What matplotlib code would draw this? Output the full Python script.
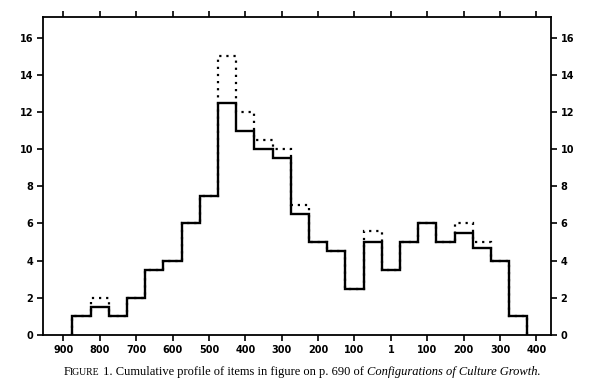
import matplotlib
matplotlib.use("Agg")
import matplotlib.pyplot as plt
from matplotlib.offsetbox import TextArea, HPacker, AnchoredOffsetbox

# Jahre: v. Chr. negativ, "1" = 0
bin_edges = list(range(-875, 376, 50))

# Durchgehende Linie
solid_vals = [1, 1.5, 1, 2, 3.5, 4, 6, 7.5, 12.5, 11, 10, 9.5, 6.5,
              5, 4.5, 2.5, 5, 3.5, 5, 6, 5, 5.5, 4.7, 4, 1]
# Punktierte Linie (nur wo sie abweicht sichtbar)
dotted_vals = [1, 2, 1, 2, 3.5, 4, 6, 7.5, 15, 12, 10.5, 10, 7,
               5, 4.5, 2.5, 5.6, 3.5, 5, 6, 5, 6, 5, 4, 1]

tick_pos = [-900, -800, -700, -600, -500, -400, -300, -200, -100, 0,
            100, 200, 300, 400]
tick_labels = ["900", "800", "700", "600", "500", "400", "300", "200",
               "100", "1", "100", "200", "300", "400"]
y_ticks = [0, 2, 4, 6, 8, 10, 12, 14, 16]

fig = plt.figure(figsize=(6, 3.9), dpi=100)
ax = fig.add_axes([0.0717, 0.141, 0.8466, 0.815])

ax.stairs(dotted_vals, bin_edges, baseline=0, color="black",
          linewidth=1.6, linestyle=(0, (1, 2.2)))
ax.stairs(solid_vals, bin_edges, baseline=0, color="black", linewidth=1.7)

ax.set_xlim(-956, 440)
ax.set_ylim(0, 17.1)

ax.set_xticks(tick_pos)
ax.set_xticklabels(tick_labels)
ax.set_yticks(y_ticks)
ax.tick_params(axis="both", direction="out", length=4, width=1.2,
               labelsize=7, color="black")
ax.tick_params(axis="x", top=True, labeltop=False, pad=3)
ax.tick_params(axis="y", right=True, labelright=True, pad=3)
for lab in ax.get_xticklabels() + ax.get_yticklabels():
    lab.set_fontweight("bold")

for sp in ax.spines.values():
    sp.set_linewidth(1.3)
    sp.set_color("black")

# Bildunterschrift mit Kapitälchen und Kursiv
serif = "Liberation Serif"
parts = [
    TextArea("F", textprops=dict(family=serif, size=9)),
    TextArea("IGURE", textprops=dict(family=serif, size=7)),
    TextArea(" 1. Cumulative profile of items in figure on p. 690 of ",
             textprops=dict(family=serif, size=9)),
    TextArea("Configurations of Culture Growth.",
             textprops=dict(family=serif, size=9, style="italic")),
]
caption = HPacker(children=parts, align="baseline", pad=0, sep=0)
box = AnchoredOffsetbox(loc="center", child=caption, frameon=False,
                        bbox_to_anchor=(0.503, 0.046),
                        bbox_transform=fig.transFigure, borderpad=0, pad=0)
fig.add_artist(box)

fig.savefig("out.png", dpi=100, facecolor="white")
